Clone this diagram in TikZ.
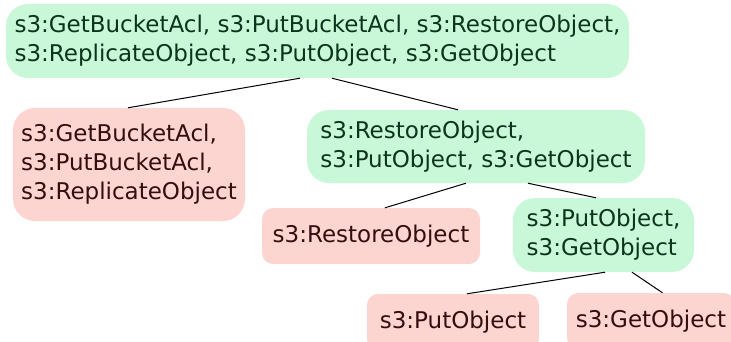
\documentclass[tikz,border=0pt]{standalone}
\usepackage{fontspec}
\setmainfont{DejaVu Sans}
\usetikzlibrary{positioning}
\definecolor{keepgreen}{RGB}{201,248,216}
\definecolor{keepgreentext}{RGB}{12,52,28}
\definecolor{dropred}{RGB}{252,213,208}
\definecolor{dropredtext}{RGB}{52,14,14}

\tikzset{
  actset/.style={align=left, inner xsep=0pt, inner ysep=0pt,
    font=\fontsize{23}{29}\selectfont, rounded corners=22pt},
  kept/.style={actset, fill=keepgreen, text=keepgreentext},
  dropped/.style={actset, fill=dropred, text=dropredtext},
  oneline/.style={rounded corners=11pt},
  branch/.style={line width=1pt, black}
}

\begin{document}
\begin{tikzpicture}[x=1pt, y=1pt]
    \useasboundingbox (0,0) rectangle (731,-341);

    \node[kept, minimum width=623pt, minimum height=74pt] (all) at (317.5,-41)
      {s3:GetBucketAcl, s3:PutBucketAcl, s3:RestoreObject,\\s3:ReplicateObject, s3:PutObject, s3:GetObject};
    \node[dropped, minimum width=232pt, minimum height=113pt] (acl) at (129,-164.5)
      {s3:GetBucketAcl,\\s3:PutBucketAcl,\\s3:ReplicateObject};
    \node[kept, minimum width=338pt, minimum height=73pt] (rpg) at (476,-146.5)
      {s3:RestoreObject,\\s3:PutObject, s3:GetObject};
    \node[dropped, oneline, minimum width=218pt, minimum height=56pt] (restore) at (371,-236)
      {s3:RestoreObject};
    \node[kept, minimum width=181pt, minimum height=74pt] (pg) at (603.5,-235)
      {s3:PutObject,\\s3:GetObject};
    \node[dropped, oneline, minimum width=172pt, minimum height=56pt] (put) at (453,-322)
      {s3:PutObject};
    \node[dropped, oneline, minimum width=168pt, minimum height=56pt] (get) at (651,-321)
      {s3:GetObject};

    \draw[branch] ([xshift=-17.5pt]all.south) -- ([xshift=-1pt]acl.north);
    \draw[branch] ([xshift=14.5pt]all.south) -- ([xshift=-18pt]rpg.north);
    \draw[branch] ([xshift=-10pt]rpg.south) -- ([xshift=14pt]restore.north);
    \draw[branch] ([xshift=52pt]rpg.south) -- ([xshift=-7.5pt]pg.north);
    \draw[branch] ([xshift=1.5pt]pg.south) -- ([xshift=14pt]put.north);
    \draw[branch] ([xshift=28.5pt]pg.south) -- ([xshift=11.5pt]get.north);
\end{tikzpicture}
\end{document}
